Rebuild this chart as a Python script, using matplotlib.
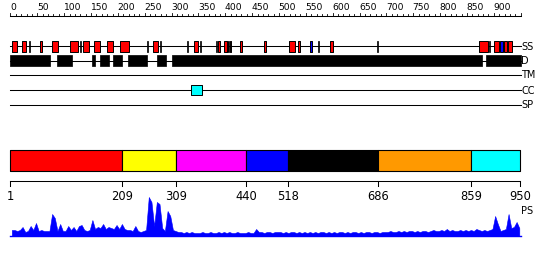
import numpy as np
import matplotlib
matplotlib.use('Agg')
from matplotlib import pyplot as plt

# Протеин: длина и треки
seq_len = 950

# вторичная структура (SS): спирали, тяжи, повороты
helix_start = [2, 22, 55, 77, 110, 135, 156, 179, 204, 266, 341, 386, 397, 408, 427,
               472, 518, 535, 595, 872, 901, 919, 926]
helix_end = [13, 29, 58, 88, 126, 146, 166, 191, 221, 274, 350, 390, 403, 411, 431,
             476, 529, 539, 601, 889, 909, 925, 933]
strand_start = [557, 912]
strand_end = [561, 918]
turn_pos = [35, 130, 255, 279, 330, 353, 384, 405, 573, 683, 892]

# неупорядоченные участки (D)
dis_start = [0, 87, 151, 166, 190, 218, 272, 300, 886]
dis_end = [74, 115, 158, 184, 207, 255, 290, 878, 950]

# coiled coil (CC)
cc_start = [337]
cc_end = [357]

# домены
dom_bounds = [1, 209, 309, 440, 518, 686, 859, 950]
dom_colors = ['#ff0000', '#ffff00', '#ff00ff', '#0000ff', '#000000', '#ff9900', '#00ffff']

# профиль PS, шаг 5 остатков
ps_values = [
    6, 6, 5, 6, 9, 4, 5, 10, 6, 13,
    5, 6, 5, 5, 5, 22, 18, 5, 12, 5,
    5, 10, 6, 9, 5, 10, 11, 6, 5, 6,
    16, 7, 9, 8, 12, 7, 9, 8, 7, 11,
    7, 12, 7, 6, 6, 5, 10, 5, 4, 5,
    6, 39, 34, 10, 34, 32, 8, 5, 25, 20,
    6, 5, 4, 4, 3, 4, 3, 4, 3, 3,
    3, 4, 3, 3, 4, 3, 3, 4, 3, 4,
    3, 4, 3, 3, 4, 3, 3, 3, 4, 3,
    3, 7, 4, 4, 3, 4, 4, 3, 4, 4,
    4, 3, 4, 3, 4, 4, 3, 4, 3, 4,
    3, 4, 3, 4, 3, 4, 4, 3, 4, 3,
    4, 3, 4, 4, 3, 4, 3, 4, 4, 3,
    4, 3, 4, 4, 3, 4, 4, 3, 4, 4,
    4, 5, 4, 4, 5, 4, 5, 4, 5, 5,
    4, 5, 4, 5, 5, 4, 5, 6, 5, 5,
    6, 5, 7, 5, 6, 5, 5, 6, 5, 6,
    5, 6, 5, 7, 6, 5, 6, 5, 6, 7,
    20, 12, 5, 6, 7, 22, 8, 9, 14, 8,
]
ps_pos = np.arange(0, seq_len, 5)

track_names = ['SS', 'D', 'TM', 'CC', 'SP']
track_y = [46, 60.5, 75, 90, 105]

px = 0.537  # пикселей на остаток
x0 = 10.5

fig = plt.figure(figsize=(5.5, 2.6), dpi=100)
ax = fig.add_axes([0, 0, 1, 1])
ax.set_xlim(-x0 / px, (550 - x0) / px)
ax.set_ylim(260, 0)
ax.axis('off')

lw = 0.75

# верхняя линейка
ax.plot([0, seq_len], [16, 16], color='black', lw=lw)
for t in range(0, seq_len + 1, 10):
    top = 12.5 if t % 50 == 0 else 13.5
    ax.plot([t, t], [16, top], color='black', lw=0.6)
for t in range(0, 901, 50):
    ax.text(t - 1, 12.5, str(t), ha='left', va='bottom', fontsize=6.6, family='DejaVu Sans')

# треки
for name, y in zip(track_names, track_y):
    ax.plot([0, seq_len], [y, y], color='black', lw=lw, zorder=1)
    ax.text(seq_len + 1.5, y + 0.5, name, ha='left', va='center', fontsize=7, family='DejaVu Sans')

h = 11
y_ss = track_y[0]
ax.broken_barh([(s, e - s) for s, e in zip(helix_start, helix_end)], (y_ss - h / 2, h),
               facecolor='#ff0000', edgecolor='black', lw=0.7, zorder=3)
ax.broken_barh([(s, e - s) for s, e in zip(strand_start, strand_end)], (y_ss - h / 2, h),
               facecolor='#0000ff', edgecolor='black', lw=0.7, zorder=3)
ax.broken_barh([(p - 1, 2) for p in turn_pos], (y_ss - h / 2, h),
               facecolor='black', edgecolor='black', lw=0.5, zorder=3)

y_d = track_y[1]
ax.broken_barh([(s, e - s) for s, e in zip(dis_start, dis_end)], (y_d - h / 2, h),
               facecolor='black', edgecolor='black', lw=0.5, zorder=3)

y_cc = track_y[3]
ax.broken_barh([(s, e - s) for s, e in zip(cc_start, cc_end)], (y_cc - 5, 10),
               facecolor='#00ffff', edgecolor='black', lw=0.7, zorder=3)

# домены
dom_ranges = [(dom_bounds[i] - 1, dom_bounds[i + 1] - dom_bounds[i]) for i in range(len(dom_colors))]
for (s, w), c in zip(dom_ranges, dom_colors):
    ax.broken_barh([(s, w)], (150, 20.5), facecolor=c, edgecolor='black', lw=0.8)

# нижняя линейка
ax.plot([0, seq_len - 1], [181, 181], color='black', lw=lw)
for b in dom_bounds:
    ax.plot([b - 1, b - 1], [181, 186], color='black', lw=lw)
    ax.text(b - 1, 196, str(b), ha='center', va='center', fontsize=8.3, family='DejaVu Sans')

# профиль PS
base = 236
ps = np.array(ps_values)
ax.fill_between(ps_pos + 2.5, base, base - ps, color='#0000ff', lw=0.4, edgecolor='#0000ff')
ax.plot([0, seq_len], [base - 0.5, base - 0.5], color='#0000ff', lw=1)
ax.text(seq_len + 1.5, 211, 'PS', ha='left', va='center', fontsize=7, family='DejaVu Sans')

fig.savefig('out.png', dpi=100)
